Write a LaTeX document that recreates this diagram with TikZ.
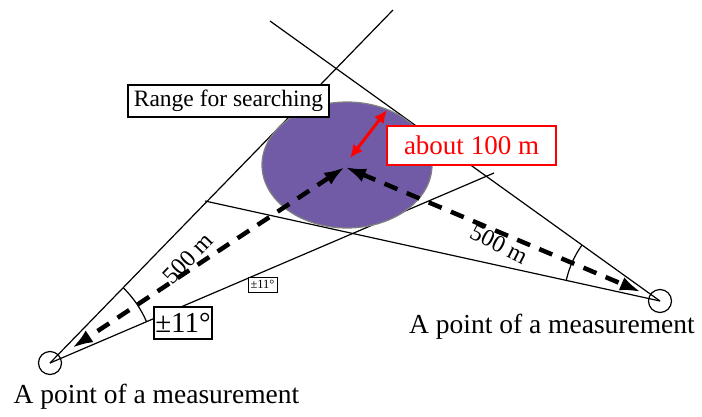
\documentclass[tikz,border=0pt]{standalone}
\usepackage{fontspec}
\setmainfont{Liberation Serif}
\usetikzlibrary{arrows.meta,shapes.geometric}
\definecolor{rangepurple}{RGB}{114,91,166}
\tikzset{
  thin line/.style={line width=1.2pt, black},
  ptcircle/.style={circle, draw, line width=1.2pt, minimum size=23pt, inner sep=0pt},
  dasharrow/.style={line width=4.5pt, dash pattern=on 14pt off 10pt,
    {Latex[length=21pt,width=14pt]}-{Latex[length=21pt,width=14pt]}},
  redarrow/.style={line width=3pt, red, {Latex[length=13pt,width=12pt]}-{Latex[length=13pt,width=12pt]}},
  blackbox/.style={draw, fill=white, line width=1.3pt, inner sep=0pt},
  redbox/.style={draw=red, fill=white, line width=2.5pt, inner sep=0pt, text=red},
  ptlabel/.style={font=\fontsize{27.5}{30}\selectfont, inner sep=0pt, anchor=base},
  distlabel/.style={font=\fontsize{24}{26}\selectfont, inner sep=0pt}
}
\begin{document}
\begin{tikzpicture}[x=1pt,y=-1pt]
\useasboundingbox (0,0) rectangle (702,416);
% vertices
\coordinate (L) at (50,363);
\coordinate (R) at (660,301);
\coordinate (C) at (345,167);
% wedge end points
\coordinate (Lup) at (393,10);
\coordinate (Llo) at (494,173);
\coordinate (Rup) at (270,21);
\coordinate (Rlo) at (205,201);
% wedge lines
\draw[thin line] (L) -- (Lup);
\draw[thin line] (L) -- (Llo);
\draw[thin line] (R) -- (Rup);
\draw[thin line] (R) -- (Rlo);
% angle arcs
\draw[thin line] (L) ++(23.2:105pt) arc[start angle=23.2, end angle=45.8, radius=105pt];
\draw[thin line] (R) ++(144.3:96pt) arc[start angle=144.3, end angle=167.6, radius=96pt];
% range ellipse
\node[ellipse, draw=gray, line width=1.2pt, fill=rangepurple, minimum width=170pt, minimum height=126pt, inner sep=0pt] (E) at (347,165) {};
% measurement points
\node[ptcircle] (Lc) at (L) {};
\node[ptcircle] (Rc) at (R) {};
% dashed arrows
\coordinate (Ltip) at (72,348);
\coordinate (Rtip) at (641,292);
\draw[dasharrow] (C) -- (Ltip);
\draw[dasharrow] (C) -- (Rtip);
% red arrow
\coordinate (Ra) at (350,158);
\coordinate (Rb) at (387,110);
\draw[redarrow] (Ra) -- (Rb);
% boxes
\node[blackbox, minimum width=201pt, minimum height=32pt, font=\fontsize{23.5}{25}\selectfont] (range) at (228.5,101) {Range for searching};
\node[redbox, minimum width=169pt, minimum height=39pt, font=\fontsize{27}{29}\selectfont] (about) at (471.5,145.5) {about 100 m};
\node[blackbox, minimum width=58pt, minimum height=32pt, font=\fontsize{29}{31}\selectfont] (pm) at (183,323) {±11°};
\node[blackbox, line width=0.8pt, minimum width=29pt, minimum height=15pt, font=\fontsize{12.5}{13}\selectfont] (pms) at (262.5,284.5) {±11°};
% distance labels
\node[distlabel, rotate=46] (d1) at (188,258) {500 m};
\node[distlabel, rotate=-27] (d2) at (499,244) {500 m};
% point labels
\node[ptlabel] (lab1) at (156.5,403) {A point of a measurement};
\node[ptlabel] (lab2) at (552,333) {A point of a measurement};
\end{tikzpicture}
\end{document}
